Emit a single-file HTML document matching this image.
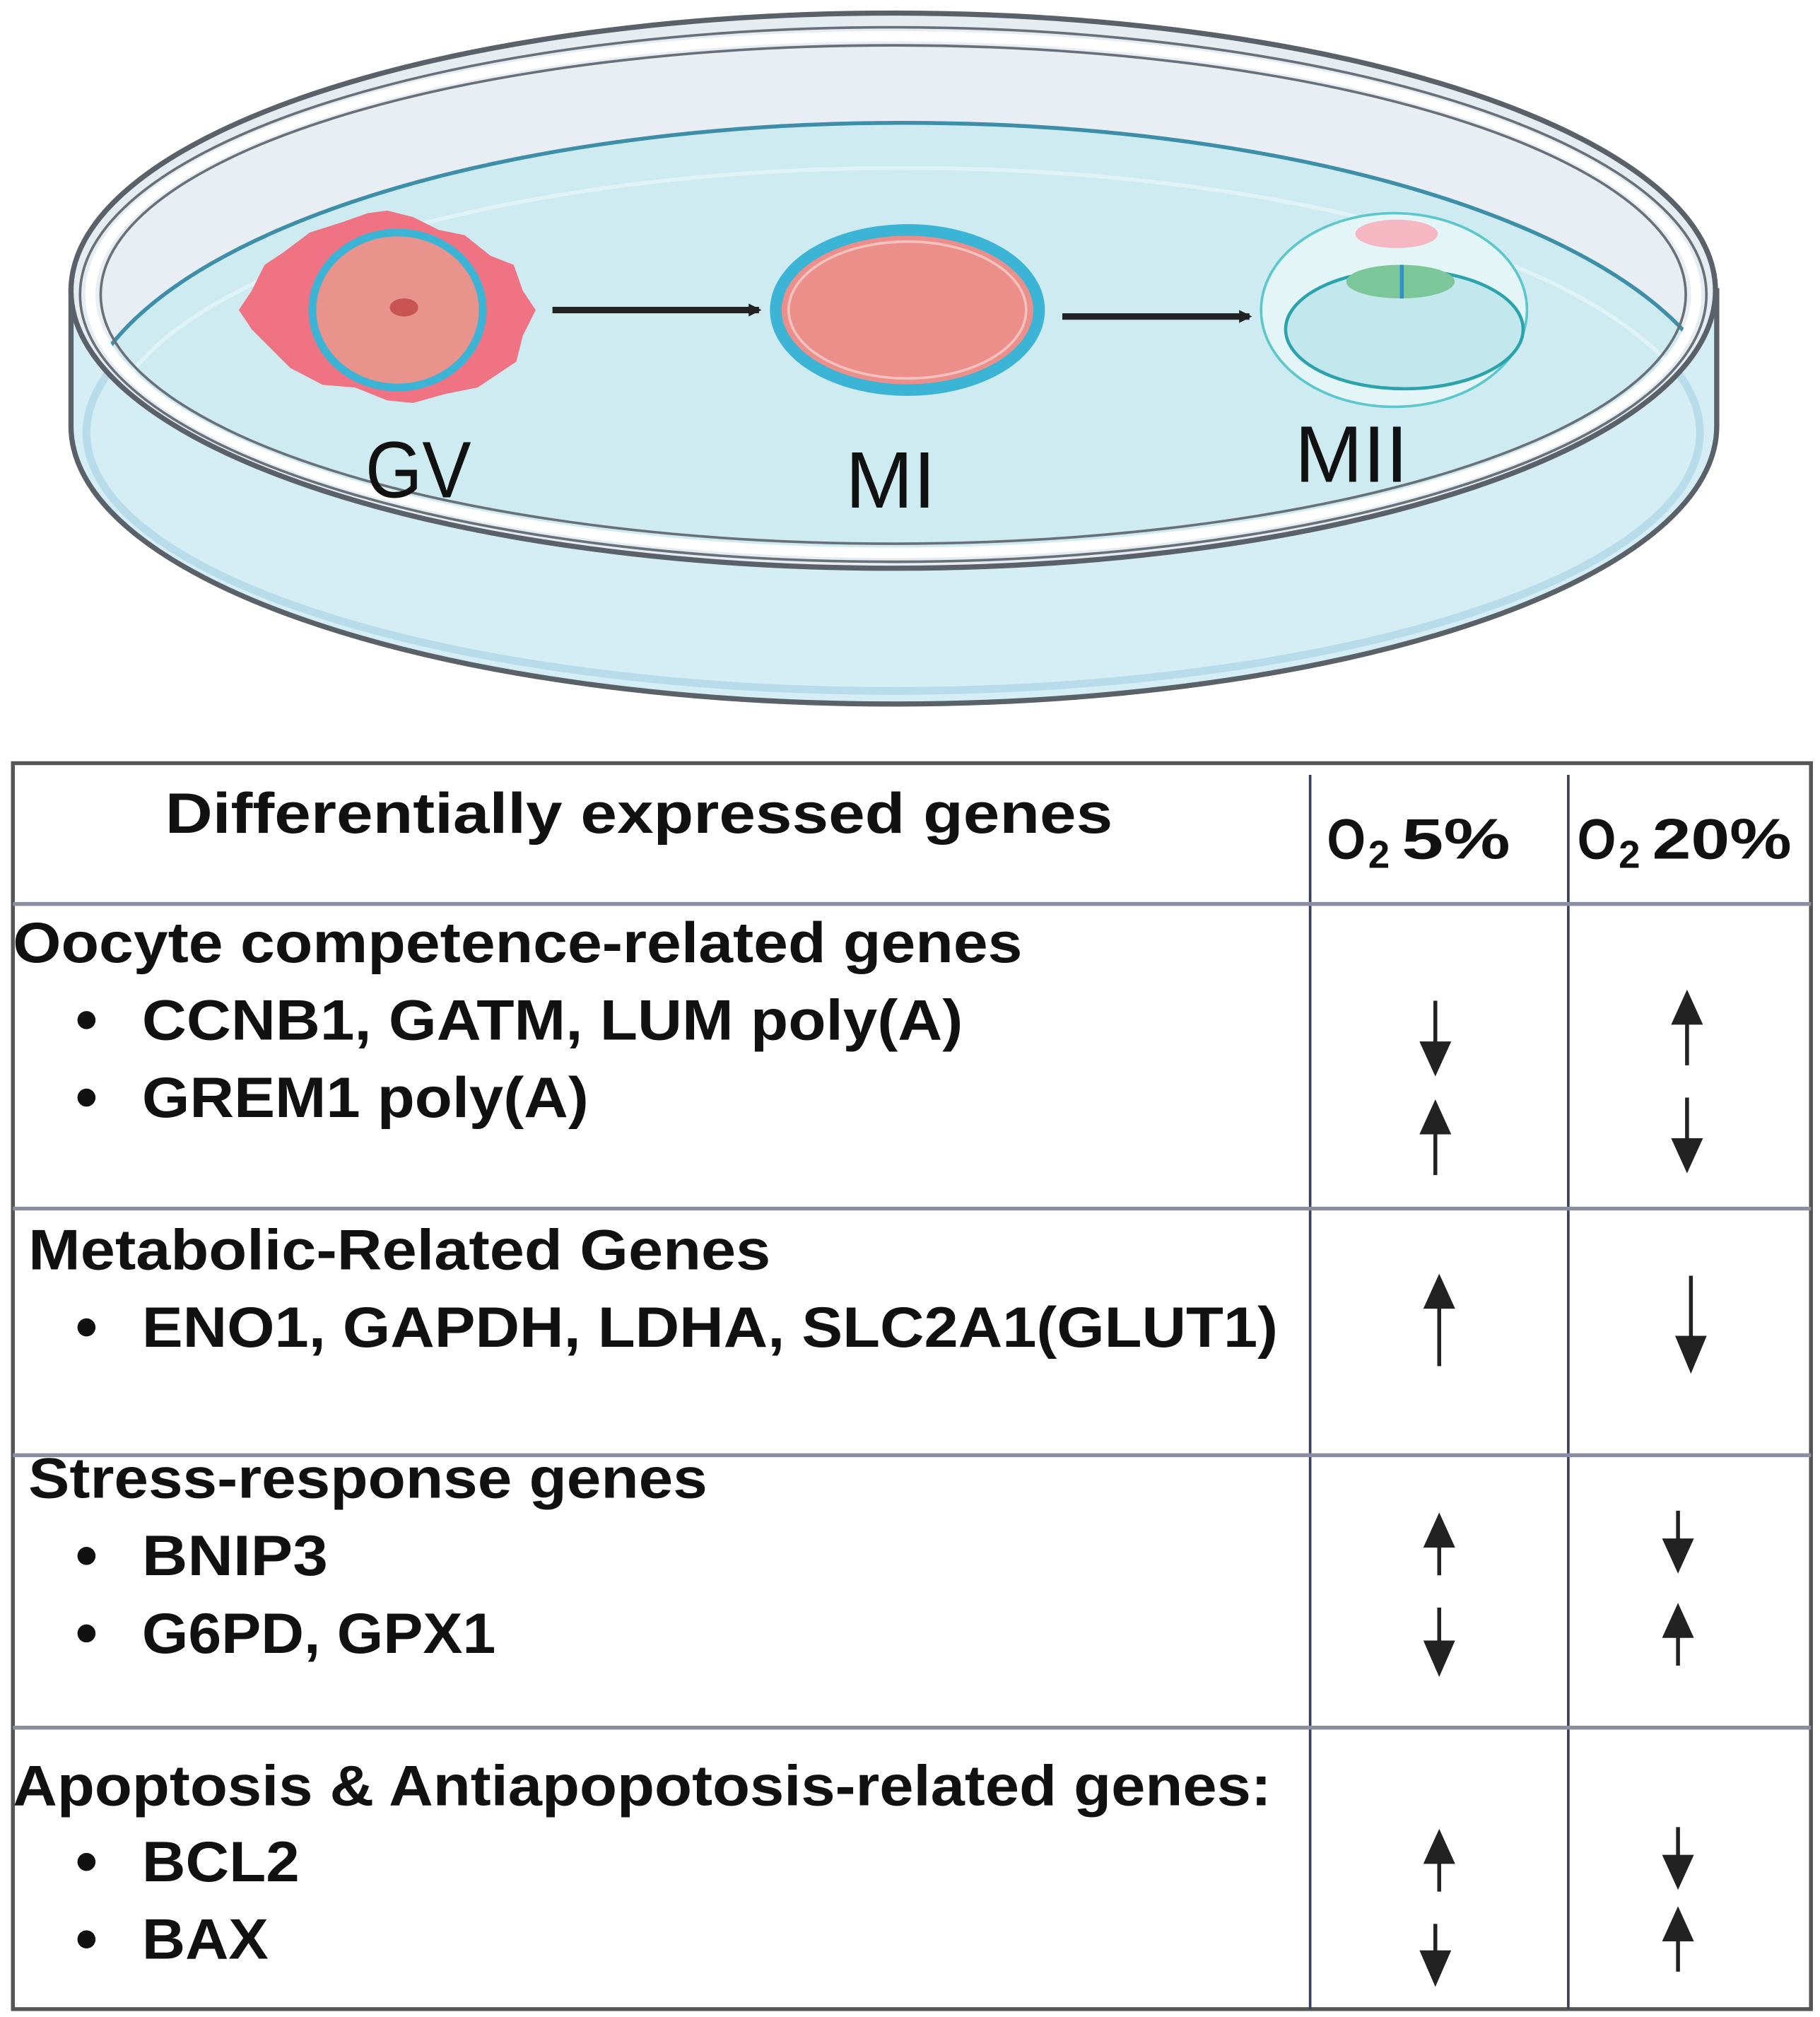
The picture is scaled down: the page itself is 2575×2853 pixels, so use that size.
<!DOCTYPE html>
<html><head><meta charset="utf-8"><style>html,body{margin:0;padding:0;background:#fff}svg{display:block}</style></head><body>
<svg width="2575" height="2853" viewBox="0 0 1410 1562" xmlns="http://www.w3.org/2000/svg" font-family="Liberation Sans, sans-serif">
<defs>
<clipPath id="inner"><ellipse cx="692" cy="228" rx="622" ry="200"/></clipPath>
<marker id="ah" markerWidth="10" markerHeight="10" refX="8" refY="5" orient="auto" markerUnits="userSpaceOnUse"><path d="M0,0 L10,5 L0,10 z" fill="#222"/></marker>
</defs>
<!-- dish body -->
<path d="M55,225 L55,330 A637,215 0 0 0 1330,330 L1330,225 Z" fill="#d5eef5" stroke="#5a6168" stroke-width="4"/>
<ellipse cx="692" cy="335" rx="625" ry="200" fill="none" stroke="#b9dcea" stroke-width="6"/>
<!-- lid -->
<ellipse cx="692" cy="225" rx="637" ry="215" fill="#e6edf2" stroke="#5a6168" stroke-width="4"/>
<ellipse cx="692" cy="228" rx="622" ry="200" fill="#e8eef3" stroke="#7a8088" stroke-width="3"/>
<g clip-path="url(#inner)">
<ellipse cx="700" cy="335" rx="640" ry="240" fill="#cdebf0" stroke="#3d8ea8" stroke-width="3"/>
<ellipse cx="700" cy="345" rx="620" ry="215" fill="none" stroke="#e0f4f8" stroke-width="3"/>
</g>
<ellipse cx="692" cy="228" rx="622" ry="200" fill="none" stroke="#ffffff" stroke-width="8"/>
<ellipse cx="692" cy="228" rx="630" ry="207" fill="none" stroke="#6a7078" stroke-width="2"/>
<ellipse cx="692" cy="228" rx="614" ry="193" fill="none" stroke="#6a7078" stroke-width="2"/>
<!-- GV -->
<path d="M300,163 L320,168 L340,178 L360,182 L380,198 L398,205 L405,225 L415,240 L405,260 L400,280 L385,290 L370,300 L345,305 L320,312 L300,310 L275,300 L250,298 L225,285 L210,270 L195,255 L185,240 L195,225 L205,205 L220,195 L240,180 L265,172 L285,165 Z" fill="#f07383"/>
<ellipse cx="308" cy="240" rx="66" ry="60" fill="#e8948c" stroke="#3bb4d6" stroke-width="6"/>
<ellipse cx="313" cy="238" rx="11" ry="7" fill="#c85454"/>
<line x1="428" y1="240" x2="588" y2="240" stroke="#222" stroke-width="5" marker-end="url(#ah)"/>
<!-- MI -->
<ellipse cx="703" cy="240" rx="102" ry="62" fill="#ec8f8b" stroke="#3bb4d6" stroke-width="9"/>
<ellipse cx="703" cy="240" rx="92" ry="53" fill="none" stroke="#f3c2bf" stroke-width="2"/>
<line x1="823" y1="245" x2="968" y2="245" stroke="#222" stroke-width="5" marker-end="url(#ah)"/>
<!-- MII -->
<ellipse cx="1080" cy="240" rx="103" ry="75" fill="#e4f5f8" stroke="#5cc7cc" stroke-width="2"/>
<ellipse cx="1088" cy="255" rx="92" ry="46" fill="#c2e7ec" stroke="#2aa3ad" stroke-width="2.5"/>
<ellipse cx="1082" cy="181" rx="32" ry="11" fill="#f5b8c2"/>
<ellipse cx="1085" cy="218" rx="42" ry="13" fill="#7cc79a"/>
<line x1="1086" y1="205" x2="1086" y2="231" stroke="#2b8fd0" stroke-width="3"/>
<!-- labels -->
<text x="283" y="385" font-size="62" textLength="82" lengthAdjust="spacingAndGlyphs" fill="#111">GV</text>
<text x="655" y="393" font-size="62" textLength="70" lengthAdjust="spacingAndGlyphs" fill="#111">MI</text>
<text x="1003" y="373" font-size="62" textLength="88" lengthAdjust="spacingAndGlyphs" fill="#111">MII</text>
<!-- table -->
<rect x="10" y="591" width="1393" height="965" fill="#fff" stroke="#555" stroke-width="3"/>
<g stroke="#3a3f5a" stroke-width="2">
<line x1="1015" y1="600" x2="1015" y2="1556"/>
<line x1="1215" y1="600" x2="1215" y2="1556"/>
</g>
<g stroke="#8a8ea0" stroke-width="3">
<line x1="10" y1="700" x2="1403" y2="700"/>
<line x1="10" y1="936" x2="1403" y2="936"/>
<line x1="10" y1="1127" x2="1403" y2="1127"/>
<line x1="10" y1="1338" x2="1403" y2="1338"/>
</g>
<g font-weight="bold" fill="#111" font-size="44">
<text x="128" y="645" textLength="734" lengthAdjust="spacingAndGlyphs">Differentially expressed genes</text>
<text x="1028" y="665" textLength="30" lengthAdjust="spacingAndGlyphs">O</text><text x="1060" y="672" font-size="30">2</text><text x="1086" y="665" textLength="84" lengthAdjust="spacingAndGlyphs">5%</text>
<text x="1222" y="665" textLength="30" lengthAdjust="spacingAndGlyphs">O</text><text x="1254" y="672" font-size="30">2</text><text x="1280" y="665" textLength="108" lengthAdjust="spacingAndGlyphs">20%</text>
<text x="10" y="745" textLength="782" lengthAdjust="spacingAndGlyphs">Oocyte competence-related genes</text>
<text x="110" y="805" textLength="636" lengthAdjust="spacingAndGlyphs">CCNB1, GATM, LUM poly(A)</text>
<text x="110" y="865" textLength="346" lengthAdjust="spacingAndGlyphs">GREM1 poly(A)</text>
<text x="22" y="983" textLength="575" lengthAdjust="spacingAndGlyphs">Metabolic-Related Genes</text>
<text x="110" y="1043" textLength="880" lengthAdjust="spacingAndGlyphs">ENO1, GAPDH,  LDHA, SLC2A1(GLUT1)</text>
<text x="22" y="1160" textLength="526" lengthAdjust="spacingAndGlyphs">Stress-response genes</text>
<text x="110" y="1220" textLength="144" lengthAdjust="spacingAndGlyphs">BNIP3</text>
<text x="110" y="1280" textLength="274" lengthAdjust="spacingAndGlyphs">G6PD, GPX1</text>
<text x="10" y="1398" textLength="975" lengthAdjust="spacingAndGlyphs">Apoptosis &amp; Antiapopotosis-related genes:</text>
<text x="110" y="1457" textLength="122" lengthAdjust="spacingAndGlyphs">BCL2</text>
<text x="110" y="1517" textLength="98" lengthAdjust="spacingAndGlyphs">BAX</text>
</g>
<g fill="#111">
<circle cx="67" cy="790" r="7"/><circle cx="67" cy="850" r="7"/><circle cx="67" cy="1028" r="7"/>
<circle cx="67" cy="1205" r="7"/><circle cx="67" cy="1265" r="7"/><circle cx="67" cy="1442" r="7"/><circle cx="67" cy="1502" r="7"/>
</g>
<g stroke="#222" stroke-width="3" fill="#222">
<!-- down arrows: x, y1(top), y2(tip) -->
<line x1="1112" y1="775" x2="1112" y2="812"/><path d="M1102,808 L1122,808 L1112,830 Z"/>
<line x1="1112" y1="873" x2="1112" y2="910"/><path d="M1102,877 L1122,877 L1112,855 Z"/>
<line x1="1307" y1="788" x2="1307" y2="825"/><path d="M1297,792 L1317,792 L1307,770 Z"/>
<line x1="1307" y1="850" x2="1307" y2="887"/><path d="M1297,883 L1317,883 L1307,905 Z"/>
<line x1="1115" y1="1008" x2="1115" y2="1058"/><path d="M1105,1012 L1125,1012 L1115,990 Z"/>
<line x1="1310" y1="988" x2="1310" y2="1040"/><path d="M1300,1036 L1320,1036 L1310,1060 Z"/>
<line x1="1115" y1="1192" x2="1115" y2="1220"/><path d="M1105,1197 L1125,1197 L1115,1175 Z"/>
<line x1="1115" y1="1245" x2="1115" y2="1275"/><path d="M1105,1272 L1125,1272 L1115,1295 Z"/>
<line x1="1300" y1="1170" x2="1300" y2="1197"/><path d="M1290,1193 L1310,1193 L1300,1215 Z"/>
<line x1="1300" y1="1262" x2="1300" y2="1290"/><path d="M1290,1267 L1310,1267 L1300,1245 Z"/>
<line x1="1115" y1="1437" x2="1115" y2="1465"/><path d="M1105,1442 L1125,1442 L1115,1420 Z"/>
<line x1="1112" y1="1490" x2="1112" y2="1515"/><path d="M1102,1512 L1122,1512 L1112,1535 Z"/>
<line x1="1300" y1="1415" x2="1300" y2="1442"/><path d="M1290,1438 L1310,1438 L1300,1460 Z"/>
<line x1="1300" y1="1497" x2="1300" y2="1527"/><path d="M1290,1502 L1310,1502 L1300,1480 Z"/>
</g>
</svg>
</body></html>
